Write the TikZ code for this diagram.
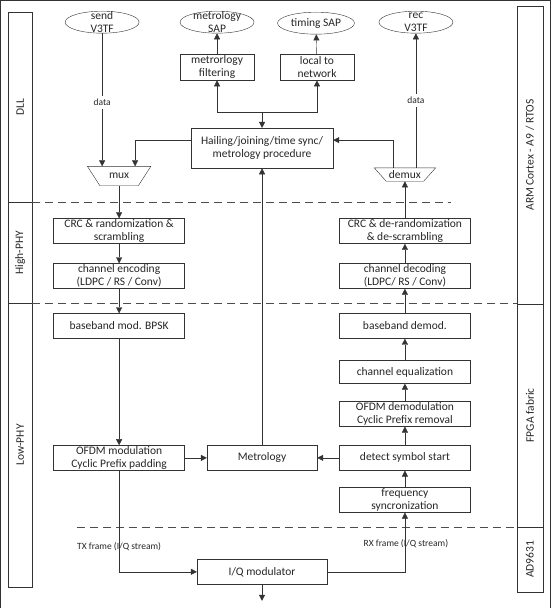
\documentclass[tikz,border=0pt]{standalone}
\usepackage{fontspec}
\setmainfont{Carlito}
\usetikzlibrary{shapes.geometric,arrows.meta}
\newcommand{\boxfont}{\fontsize{11.5}{13.5}\selectfont}
\newcommand{\tagfont}{\fontsize{9.5}{11}\selectfont}

\begin{document}
\begin{tikzpicture}[x=1pt, y=-1pt, >={Triangle[width=6pt,length=6pt]}, every path/.style={draw=black!80},
  box/.style={draw=black!80, fill=white, minimum width=131, minimum height=25, inner sep=0, align=center, font=\boxfont, text=black!85},
  sap/.style={draw=black!80, ellipse, minimum width=74, minimum height=22, inner sep=0},
  muxbox/.style={inner sep=0, font=\boxfont, text=black!85},
  inside/.style={align=center, font=\boxfont, text=black!85},
  lane/.style={draw=black!80, rotate=90, minimum height=24, inner sep=0, font=\boxfont, text=black!85},
  small/.style={font=\tagfont, text=black!85},
  sep/.style={draw=black!70, dash pattern=on 8pt off 5pt}]

\useasboundingbox (0,0) rectangle (550,608);

\node[lane, minimum width=190] (dll) at (20,107) {DLL};
\node[lane, minimum width=101] (hphy) at (20,252.5) {High-PHY};
\node[lane, minimum width=284] (lphy) at (20,445) {Low-PHY};
\node[lane, minimum width=298, minimum height=26] (arm) at (530,155) {ARM Cortex - A9 / RTOS};
\node[lane, minimum width=223, minimum height=26] (fpga) at (530,415.5) {FPGA fabric};
\node[lane, minimum width=65, minimum height=26] (ad) at (530,559.5) {AD9631};

\draw[sep] (32,202) -- (451,202);
\draw[sep] (32,303) -- (517,303);
\draw[sep] (77,527) -- (517,527);

\node[sap, label={[inside]center:send\\V3TF}] (send) at (102,22) {};
\node[sap, label={[inside]center:metrology\\SAP}] (msap) at (217,22) {};
\node[sap, minimum width=77, label={[inside]center:timing SAP}] (tsap) at (316,23) {};
\node[sap, label={[inside]center:rec\\V3TF}] (rec) at (416,22) {};

\node[box, minimum width=74, minimum height=26] (filt) at (217,67) {metrorlogy\\filtering};
\node[box, minimum width=74, minimum height=26] (loc) at (317,67) {local to\\network};
\node[box, minimum width=142, minimum height=40] (hail) at (262,148) {Hailing/joining/time sync/\\metrology procedure};

\node[muxbox, minimum width=63, minimum height=19] (mux) at (119,176) {mux};
\draw (mux.north west) -- (mux.north east) -- ([xshift=-12.5]mux.south east) -- ([xshift=12.5]mux.south west) -- cycle;
\node[muxbox, minimum width=61, minimum height=13] (demux) at (405,174.5) {demux};
\draw (demux.north west) -- (demux.north east) -- ([xshift=-12]demux.south east) -- ([xshift=12]demux.south west) -- cycle;

\node[box] (crc) at (119,231) {CRC \& randomization \&\\scrambling};
\node[box] (enc) at (119,276) {channel encoding\\(LDPC / RS / Conv)};
\node[box] (mod) at (119,326) {baseband mod. BPSK};
\node[box] (ofdm) at (119,458) {OFDM modulation\\Cyclic Prefix padding};
\node[box, minimum width=110] (metro) at (262,458) {Metrology};

\node[box] (decrc) at (405,231) {CRC \& de-randomization\\\& de-scrambling};
\node[box] (dec) at (405,276) {channel decoding\\(LDPC/ RS / Conv)};
\node[box] (demod) at (405,326) {baseband demod.};
\node[box, minimum height=23] (eq) at (405,372) {channel equalization};
\node[box] (ofdmd) at (405,414) {OFDM demodulation\\Cyclic Prefix removal};
\node[box] (detect) at (405,458) {detect symbol start};
\node[box] (freq) at (405,500) {frequency\\syncronization};

\node[box, minimum width=130] (iq) at (262,572) {I/Q modulator};
\coordinate (out) at (262,601);

\node[small] (tx) at (119,547) {TX frame (I/Q stream)};
\node[small] (rx) at (406,544) {RX frame (I/Q stream)};

\draw[->] (send) -- (send |- mux.north) node[pos=0.52, fill=white, small] {data};
\draw[->] ([yshift=8]hail.west) -| ([xshift=16]mux.north);
\draw[<-] (hail.north) -- ++(0,-16) coordinate (split);
\draw[->] (split) -| (filt);
\draw[->] (split) -| (loc);
\draw[->] (filt) -- (msap);
\draw[->] (loc) -- (tsap);

\draw[->] (mux) -- (crc);
\draw[->] (crc) -- (enc);
\draw[->] (enc) -- (mod);
\draw[->] (mod) -- (ofdm);
\draw[->] (ofdm) -- (metro);
\draw[->] (metro) -- (hail);
\draw[->] (ofdm) |- (iq);

\draw[->] (iq) -| (freq);
\draw[->] (iq) -- (out);
\draw[->] (freq) -- (detect);
\draw[->] (detect) -- (metro);
\draw[->] (detect) -- (ofdmd);
\draw[->] (ofdmd) -- (eq);
\draw[->] (eq) -- (demod);
\draw[->] (demod) -- (dec);
\draw[->] (dec) -- (decrc);
\draw[->] (decrc) -- (demux);
\draw[->] (rec |- demux.north) -- (rec) node[midway, fill=white, small] {data};
\draw[->] ([xshift=-12]demux.north) |- ([yshift=8]hail.east);

\end{tikzpicture}
\end{document}
